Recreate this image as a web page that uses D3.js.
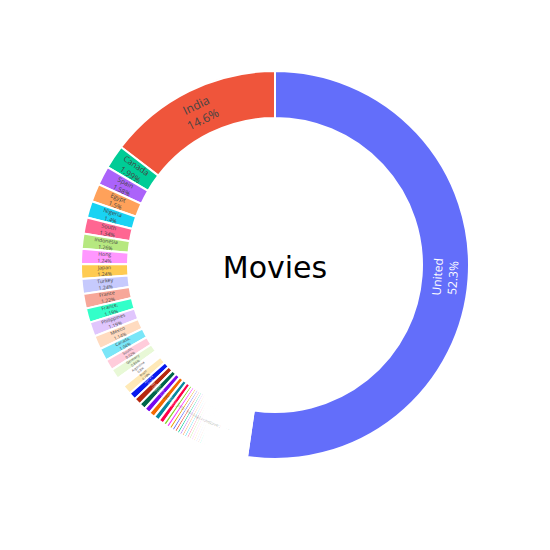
<!DOCTYPE html>
<html><head><meta charset="utf-8">
<script src="https://cdn.jsdelivr.net/npm/d3@7"></script>
<style>html,body{margin:0;padding:0;background:#fff}</style>
</head><body><svg id="c" width="550" height="550"></svg>
<script>
const title = "Movies";

const countries = [
  "United","India","Canada","Spain","Egypt","Nigeria","South","Indonesia","Hong","Japan",
  "Turkey","France","France,","Philippines","Mexico","Canada,",
  "South,","Germany","Argentina","Brazil",
  "Australia","Italy","Thailand","China","Belgium","Poland","Netherlands","Denmark","Ireland","Sweden",
  "Israel","Norway","Lebanon","Chile","Colombia","Russia","Malaysia","Singapore","Kenya","Saudi",
  "Romania","Ghana","Portugal","Switzerland","Austria","Peru","Czech","Hungary",
  "Iceland","Venezuela","Uruguay","Serbia","Croatia","Bulgaria","Greece","Jordan","Morocco","Tunisia",
  "Vietnam","Cambodia","Bangladesh","Pakistan","Iran","Iraq","Syria","Qatar","Kuwait","Finland",
  "Luxembourg","Slovenia","Slovakia","Lithuania","Latvia","Estonia","Ukraine","Georgia","Armenia","Cyprus",
  "Malta","Paraguay","Bolivia","Ecuador","Guatemala","Cuba","Jamaica","Senegal","Cameroon","Zimbabwe",
  "Namibia","Uganda","Nepal","Mongolia","Kazakhstan"
];

const shares = [
  52.3,14.6,1.99,1.58,1.5,1.4,1.34,1.26,1.24,1.24,
  1.24,1.22,1.19,1.19,1.14,1.04,
  0.92,0.86,0.80,0.78,
  0.62,0.58,0.55,0.52,0.50,0.48,0.45,0.30,0.28,0.26,
  0.25,0.24,0.23,0.22,0.22,0.21,0.21,0.20,0.20,0.19,
  0.19,0.18,0.18,0.17,0.17,0.16,0.16,0.15,
  0.12,0.12,0.12,0.12,0.12,0.10,0.10,0.10,0.10,0.10,
  0.08,0.08,0.08,0.08,0.08,0.08,0.08,0.08,0.08,0.08,
  0.06,0.06,0.06,0.06,0.06,0.06,0.06,0.06,0.06,0.06,
  0.04,0.04,0.04,0.04,0.04,0.04,0.04,0.04,0.04,0.04,
  0.04,0.04,0.04,0.04,0.04
];

const colorway = ["#636efa","#EF553B","#00cc96","#ab63fa","#FFA15A","#19d3f3","#FF6692","#B6E880","#FF97FF","#FECB52"];

const cx = 275, cy = 265, rOuter = 194, rInner = 147;

// extended pie colorway: base, lightened, darkened
const ext = colorway.slice();
colorway.forEach(c => { const h = d3.hsl(c); h.l = Math.min(1, h.l + 0.2); ext.push(h.formatHex()); });
colorway.forEach(c => { const h = d3.hsl(c); h.l = Math.max(0, h.l - 0.2); ext.push(h.formatHex()); });
const color = i => ext[i % ext.length];

const total = d3.sum(shares);
const a0 = shares[0] / total * 2 * Math.PI;
const pie = d3.pie().sort(null).startAngle(a0).endAngle(a0 - 2 * Math.PI);
const arcs = pie(shares);
const arc = d3.arc().innerRadius(rInner).outerRadius(rOuter);

const svg = d3.select("#c");
const g = svg.append("g").attr("transform", `translate(${cx},${cy})`);
g.selectAll("path").data(arcs).join("path")
  .attr("d", arc)
  .attr("fill", (d, i) => color(i))
  .attr("stroke", "#fff")
  .attr("stroke-width", 2);

const fmt = d3.format(".3~r");
const tg = g.append("g");
const thick = rOuter - rInner;
const rm = (rInner + rOuter) / 2;
const norm = a => { while (a > 90) a -= 180; while (a <= -90) a += 180; return a; };

arcs.forEach((d, i) => {
  const col = d3.rgb(color(i));
  const bright = (col.r * 299 + col.g * 587 + col.b * 114) / 1000;
  const tc = bright < 128 ? "#fff" : "#444";
  const pct = fmt(d.value / total * 100) + "%";
  const outer = tg.append("g");
  const t = outer.append("text")
    .attr("font-family", "'Open Sans', verdana, arial, sans-serif")
    .attr("font-size", 12)
    .attr("fill", tc)
    .attr("text-anchor", "middle");
  t.append("tspan").attr("x", 0).attr("y", "-0.3em").text(countries[i]);
  t.append("tspan").attr("x", 0).attr("y", "1.0em").text(pct);
  const bb = t.node().getBBox();
  const w = bb.width, h = 2.6 * 12;
  const delta = Math.abs(d.endAngle - d.startAngle);
  const mid = (d.startAngle + d.endAngle) / 2;
  const sR = Math.min(1, thick / w, delta < Math.PI ? 2 * rm * Math.tan(delta / 2) / h : Infinity);
  const sT = Math.min(1, thick / h, delta < Math.PI ? 2 * rm * Math.sin(delta / 2) / w : Infinity);
  const radRot = Math.atan2(-Math.cos(mid), Math.sin(mid)) * 180 / Math.PI;
  let rot, s;
  if (sT >= 1 || sT > sR * 1.15) { rot = norm(radRot + 90); s = sT; } else { rot = norm(radRot); s = sR; }
  const x = rm * Math.sin(mid), y = -rm * Math.cos(mid);
  const bx = bb.x + bb.width / 2, by = bb.y + bb.height / 2;
  outer.attr("transform", `translate(${x},${y}) rotate(${rot}) scale(${s}) translate(${-bx},${-by})`);
});

svg.append("text")
  .attr("x", cx).attr("y", 278)
  .attr("text-anchor", "middle")
  .attr("font-family", "'DejaVu Sans', Verdana, sans-serif")
  .attr("font-size", 30)
  .attr("fill", "#000")
  .text(title);
</script>
</body></html>
